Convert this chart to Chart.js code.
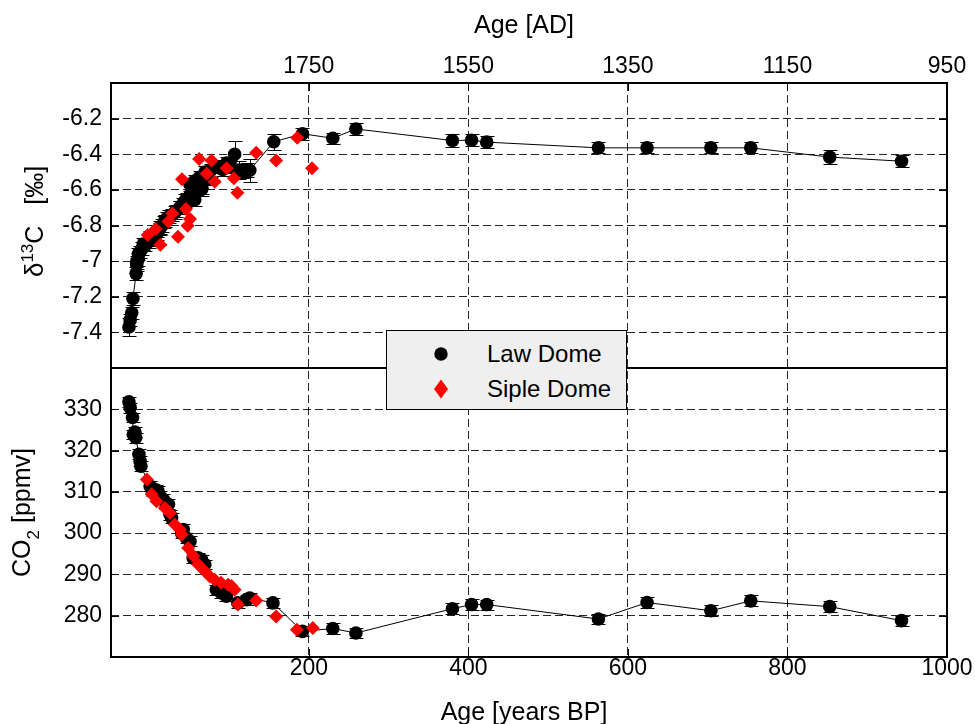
<!DOCTYPE html>
<html>
<head>
<meta charset="utf-8">
<script src="https://cdn.jsdelivr.net/npm/chart.js@4.4.1/dist/chart.umd.min.js"></script>
<style>
  html, body { margin: 0; padding: 0; background: #fff; }
  #wrap { position: relative; width: 975px; height: 724px; }
  canvas { display: block; }
  #legend {
    position: absolute; left: 386px; top: 330px; width: 239px; height: 78px;
    background: #efefef; border: 1px solid #000;
    font: 24px "Liberation Sans", Arial, sans-serif; color: #000;
  }
  #legend .row { position: absolute; left: 0; width: 100%; height: 30px; }
  #legend .mark { position: absolute; left: 44px; top: 5px; width: 20px; height: 20px; }
  #legend .txt { position: absolute; left: 100px; top: 0; line-height: 30px; white-space: nowrap; }
</style>
</head>
<body>
<div id="wrap">
  <canvas id="c" width="975" height="724"></canvas>
  <div id="legend"></div>
</div>
<script>
// ---- Law Dome δ13C (age in years BP, value in ‰, 1σ error) ----
const lawAgeD13C = [-25.5, -24, -22, -20.5, -16.5, -15.8, -15.8, -14, -13.7, -12, -9, -7.5, -5, 0, 1, 3, 7, 9.2, 10, 13, 13.4,
  16, 19, 19.6, 22, 25, 29, 32, 33, 38, 38.4, 42, 45, 47, 51, 52, 55, 57, 57, 59, 61, 63, 65.5, 66, 68, 70, 73, 77,
  84, 92, 97, 101, 107, 112, 117, 122, 126, 156, 192, 230, 259, 380, 404, 423, 563, 624, 704, 754, 853, 943];
const lawD13C = [-7.37, -7.33, -7.29, -7.21, -7.07, -7.02, -7.007, -6.99, -6.96, -6.95, -6.93, -6.904, -6.91, -6.89, -6.867, -6.88, -6.86, -6.848, -6.83, -6.82, -6.81,
  -6.80, -6.78, -6.774, -6.76, -6.75, -6.74, -6.727, -6.72, -6.70, -6.70, -6.68, -6.66, -6.65, -6.569, -6.62, -6.60, -6.655, -6.55, -6.57, -6.55, -6.53, -6.597, -6.59, -6.54, -6.50, -6.53, -6.49,
  -6.47, -6.485, -6.45, -6.47, -6.40, -6.49, -6.495, -6.49, -6.49, -6.33, -6.285, -6.31, -6.258, -6.323, -6.321, -6.332, -6.364, -6.364, -6.364, -6.364, -6.416, -6.439];
const lawD13CErr = [0.05, 0.035, 0.035, 0.035, 0.035, 0.035, 0.035, 0.035, 0.035, 0.035, 0.035, 0.035, 0.035, 0.035, 0.035, 0.035, 0.035, 0.035, 0.035, 0.035, 0.035,
  0.035, 0.035, 0.035, 0.035, 0.035, 0.035, 0.035, 0.035, 0.035, 0.035, 0.035, 0.035, 0.035, 0.035, 0.035, 0.035, 0.035, 0.035, 0.035, 0.035, 0.035, 0.035, 0.035, 0.035, 0.035, 0.035, 0.035,
  0.035, 0.035, 0.035, 0.035, 0.073, 0.05, 0.04, 0.04, 0.065, 0.045, 0.035, 0.03, 0.035, 0.035, 0.035, 0.035, 0.03, 0.03, 0.03, 0.03, 0.04, 0.035];

// ---- Siple Dome δ13C ----
const sipleAgeD13C = [-2, 8, 14, 24, 29, 36, 41, 46, 48, 51, 62.5, 72, 78, 82, 97, 106, 110.5, 134, 159, 185.5, 204];
const sipleD13C = [-6.854, -6.82, -6.908, -6.778, -6.733, -6.863, -6.541, -6.708, -6.802, -6.764, -6.426, -6.509, -6.435, -6.554, -6.479, -6.535, -6.616, -6.392, -6.435, -6.308, -6.479];

// ---- Law Dome CO2 (ppmv) ----
const lawAgeCO2 = [-25.5, -24, -21, -20, -18, -17, -13, -11.6, -10.5, 1, 3, 5, 8, 11, 13.5, 17.5, 21, 24, 26, 28,
  40.5, 42.5, 46.7, 51, 55, 61, 65.5, 69.6, 84, 90.5, 96.7, 111, 122, 126, 155, 192, 230, 259,
  380, 404, 423, 563, 624, 704, 754, 853, 943];
const lawCO2 = [331.8, 330.4, 328, 323.9, 324.5, 323.1, 319.1, 317.5, 316.2, 311.4, 310.6, 310.2, 310.5, 310.2, 309, 308.2, 307, 307, 304.5, 303.7,
  300, 300.9, 298.8, 298, 294, 294, 293.6, 292.4, 286.3, 285.5, 284.7, 283.1, 283.9, 284.3, 283.1, 276.2, 276.9, 275.8,
  281.7, 282.7, 282.7, 279.2, 283.2, 281.2, 283.6, 282.2, 278.8];
const lawCO2Err = [1.2, 1.2, 1.2, 1.2, 1.2, 1.2, 1.2, 1.2, 1.2, 1.2, 1.2, 1.2, 1.2, 1.2, 1.2, 1.2, 1.2, 1.2, 1.2, 1.2,
  1.2, 1.2, 1.2, 1.2, 1.2, 1.2, 1.2, 1.2, 1.2, 1.2, 1.2, 1.2, 1.2, 1.2, 1.3, 1.2, 1.3, 1.2,
  1.4, 1.4, 1.2, 1.3, 1.3, 1.3, 1.3, 1.3, 1.2];

// ---- Siple Dome CO2 ----
const sipleAgeCO2 = [-3, 3, 9, 19.6, 26, 32, 38.4, 40.5, 48.8, 55, 61.3, 69.6, 76, 82, 90, 98.8, 103, 107, 111, 134, 159, 185, 205];
const sipleCO2 = [313, 309.4, 307.7, 306.1, 304.9, 302.1, 300.9, 299.7, 296.4, 294.5, 292.4, 290.8, 289.5, 288.7, 288, 287.5, 287.2, 286.3, 282.7, 283.7, 279.8, 276.6, 277];

// ---- axes ----
const ageTicksBP = [200, 400, 600, 800, 1000];
const d13cTicks = [-7.4, -7.2, -7.0, -6.8, -6.6, -6.4, -6.2];
const co2Ticks = [280, 290, 300, 310, 320, 330];
const ageRangeBP = [-48, 1000];
const d13cRange = [-7.6, -6.0];
const co2Range = [270, 340];

const FONT = '"Liberation Sans", Arial, sans-serif';
const pts = (xs, ys) => xs.map((x, i) => ({ x: x, y: ys[i] }));

// vertical error bars with caps, drawn under the markers
const errorBars = {
  id: 'errorBars',
  beforeDatasetsDraw(chart) {
    const ctx = chart.ctx, a = chart.chartArea;
    ctx.save();
    ctx.beginPath(); ctx.rect(a.left, a.top, a.right - a.left, a.bottom - a.top); ctx.clip();
    ctx.strokeStyle = '#000'; ctx.lineWidth = 1;
    chart.data.datasets.forEach((ds, i) => {
      if (!ds.errors) return;
      const meta = chart.getDatasetMeta(i);
      const xs = chart.scales[meta.xAxisID], ys = chart.scales[meta.yAxisID];
      ds.data.forEach((p, j) => {
        const e = ds.errors[j];
        const x = Math.round(xs.getPixelForValue(p.x)) + 0.5;
        const y1 = Math.round(ys.getPixelForValue(p.y - e)) + 0.5;
        const y2 = Math.round(ys.getPixelForValue(p.y + e)) + 0.5;
        ctx.beginPath();
        ctx.moveTo(x, y1); ctx.lineTo(x, y2);
        ctx.moveTo(x - 7, y1); ctx.lineTo(x + 7, y1);
        ctx.moveTo(x - 7, y2); ctx.lineTo(x + 7, y2);
        ctx.stroke();
      });
    });
    ctx.restore();
  }
};

// draws text made of pieces with their own size and baseline shift
function richText(ctx, parts, x, y, rotate) {
  ctx.save();
  ctx.translate(x, y);
  if (rotate) ctx.rotate(-Math.PI / 2);
  ctx.fillStyle = '#000';
  ctx.textBaseline = 'alphabetic';
  ctx.textAlign = 'left';
  let total = 0;
  parts.forEach(p => { ctx.font = p.size + 'px ' + FONT; p.w = ctx.measureText(p.t).width; total += p.w; });
  let pos = -total / 2;
  parts.forEach(p => { ctx.font = p.size + 'px ' + FONT; ctx.fillText(p.t, pos, p.dy || 0); pos += p.w; });
  ctx.restore();
}

// frame, panel divider, inward ticks and axis titles
const frame = {
  id: 'frame',
  afterDraw(chart) {
    const ctx = chart.ctx, a = chart.chartArea;
    const sx = chart.scales.x, sx2 = chart.scales.x2, yd = chart.scales.yd, yc = chart.scales.yc;
    ctx.save();
    ctx.strokeStyle = '#000';
    ctx.lineWidth = 1;
    ctx.beginPath();
    sx.ticks.forEach(t => {
      const px = Math.round(sx.getPixelForValue(t.value)) + 0.5;
      ctx.moveTo(px, a.bottom); ctx.lineTo(px, a.bottom - 8);
    });
    sx2.ticks.forEach(t => {
      const px = Math.round(sx2.getPixelForValue(t.value)) + 0.5;
      ctx.moveTo(px, a.top); ctx.lineTo(px, a.top + 8);
    });
    [yd, yc].forEach(s => s.ticks.forEach(t => {
      const py = Math.round(s.getPixelForValue(t.value)) + 0.5;
      ctx.moveTo(a.left, py); ctx.lineTo(a.left + 8, py);
      ctx.moveTo(a.right, py); ctx.lineTo(a.right - 8, py);
    }));
    ctx.stroke();
    ctx.lineWidth = 2;
    ctx.strokeRect(a.left, a.top, a.right - a.left, a.bottom - a.top);
    ctx.beginPath();
    ctx.moveTo(a.left, yd.bottom); ctx.lineTo(a.right, yd.bottom);
    ctx.stroke();
    ctx.restore();

    richText(ctx, [{ t: 'Age [years BP]', size: 25 }], 524, 720, false);
    richText(ctx, [{ t: 'Age [AD]', size: 25 }], 524, 33, false);
    richText(ctx, [
      { t: 'δ', size: 26 },
      { t: '13', size: 17, dy: -10 },
      { t: 'C   [‰]', size: 25 }
    ], 43, (yd.top + yd.bottom) / 2 - 4, true);
    richText(ctx, [
      { t: 'CO', size: 25 },
      { t: '2', size: 17, dy: 9 },
      { t: ' [ppmv]', size: 25 }
    ], 30, (yc.top + yc.bottom) / 2, true);
  }
};

const tickFont = { family: FONT, size: 23, lineHeight: 1 };
const gridStyle = { color: 'rgba(0,0,0,0.85)', lineWidth: 1, drawTicks: false };
const dashed = { display: false, dash: [8, 4] };

const chart = new Chart(document.getElementById('c'), {
  type: 'scatter',
  data: {
    datasets: [
      {
        label: 'Siple Dome', data: pts(sipleAgeD13C, sipleD13C), yAxisID: 'yd', order: 0,
        pointStyle: 'rectRot', pointRadius: 7, backgroundColor: '#ff0000', borderWidth: 0, showLine: false
      },
      {
        label: 'Siple Dome', data: pts(sipleAgeCO2, sipleCO2), yAxisID: 'yc', order: 0,
        pointStyle: 'rectRot', pointRadius: 7, backgroundColor: '#ff0000', borderWidth: 0, showLine: false
      },
      {
        label: 'Law Dome', data: pts(lawAgeD13C, lawD13C), errors: lawD13CErr, yAxisID: 'yd', order: 1,
        pointStyle: 'circle', pointRadius: 6.8, pointBackgroundColor: '#000', pointBorderWidth: 0,
        showLine: true, borderColor: '#000', borderWidth: 1, tension: 0
      },
      {
        label: 'Law Dome', data: pts(lawAgeCO2, lawCO2), errors: lawCO2Err, yAxisID: 'yc', order: 1,
        pointStyle: 'circle', pointRadius: 6.8, pointBackgroundColor: '#000', pointBorderWidth: 0,
        showLine: true, borderColor: '#000', borderWidth: 1, tension: 0
      }
    ]
  },
  options: {
    responsive: false,
    animation: false,
    devicePixelRatio: 1,
    layout: { padding: { left: 0, right: 28, top: 0, bottom: 0 } },
    plugins: { legend: { display: false }, tooltip: { enabled: false } },
    scales: {
      x: {
        type: 'linear', position: 'bottom', min: ageRangeBP[0], max: ageRangeBP[1],
        afterBuildTicks: s => { s.ticks = ageTicksBP.map(v => ({ value: v })); },
        afterFit: s => { s.height = 67; },
        ticks: { autoSkip: false, font: tickFont, color: '#000', padding: 0, maxRotation: 0,
          callback: v => String(v) },
        grid: gridStyle, border: dashed
      },
      x2: {
        type: 'linear', position: 'top', min: ageRangeBP[0], max: ageRangeBP[1],
        afterBuildTicks: s => { s.ticks = ageTicksBP.map(v => ({ value: v })); },
        afterFit: s => { s.height = 83; },
        ticks: { autoSkip: false, font: tickFont, color: '#000', padding: 5, maxRotation: 0,
          callback: v => String(1950 - v) },
        grid: { display: false, drawTicks: false }, border: { display: false }
      },
      yc: {
        type: 'linear', position: 'left', stack: 'panels', stackWeight: 289,
        min: co2Range[0], max: co2Range[1],
        afterBuildTicks: s => { s.ticks = co2Ticks.map(v => ({ value: v })); },
        afterFit: s => { s.width = 111; },
        ticks: { autoSkip: false, font: tickFont, color: '#000', padding: 9, callback: v => String(v) },
        grid: gridStyle, border: dashed
      },
      yd: {
        type: 'linear', position: 'left', stack: 'panels', stackWeight: 285,
        min: d13cRange[0], max: d13cRange[1],
        afterBuildTicks: s => { s.ticks = d13cTicks.map(v => ({ value: v })); },
        afterFit: s => { s.width = 111; },
        ticks: { autoSkip: false, font: tickFont, color: '#000', padding: 9,
          callback: v => String(Math.round(v * 10) / 10) },
        grid: gridStyle, border: dashed
      }
    }
  },
  plugins: [errorBars, frame]
});

// legend built from the dataset labels and marker styles
(function buildLegend() {
  const seen = {};
  const items = [];
  chart.data.datasets.slice().sort((a, b) => b.order - a.order).forEach(ds => {
    if (seen[ds.label]) return;
    seen[ds.label] = true;
    items.push(ds);
  });
  const box = document.getElementById('legend');
  items.forEach((ds, i) => {
    const row = document.createElement('div');
    row.className = 'row';
    row.style.top = (8 + i * 35) + 'px';
    const mark = ds.pointStyle === 'circle'
      ? '<svg class="mark" viewBox="0 0 20 20"><circle cx="10" cy="10" r="6.7" fill="#000"/></svg>'
      : '<svg class="mark" viewBox="0 0 20 20"><polygon points="10,0.5 17,10 10,19.5 3,10" fill="#ff0000"/></svg>';
    row.innerHTML = mark + '<span class="txt"></span>';
    row.querySelector('.txt').textContent = ds.label;
    box.appendChild(row);
  });
})();
</script>
</body>
</html>
